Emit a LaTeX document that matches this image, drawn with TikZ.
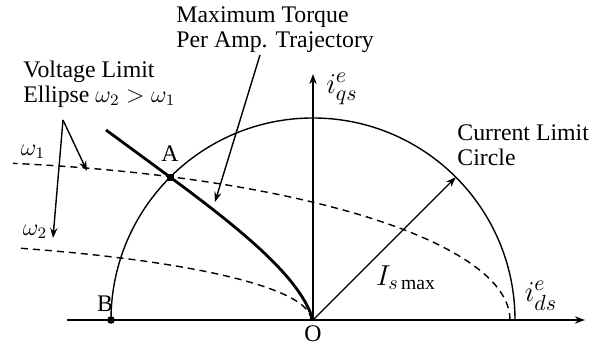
\documentclass[tikz,border=0pt]{standalone}
\usepackage{fontspec}
\setmainfont{Liberation Serif}
\usepackage{amsmath}
\usetikzlibrary{arrows.meta, positioning}

\begin{document}
\begin{tikzpicture}[x=0.5pt, y=0.5pt,
  every node/.style={inner sep=0pt, font=\fontsize{11.9}{12.5}\selectfont},
  axis/.style={line width=0.9pt, -{Stealth[length=5pt, width=3.6pt]}},
  curve/.style={line width=0.7pt},
  limit/.style={line width=0.7pt, dash pattern=on 3.5pt off 2.5pt},
  mtpa/.style={line width=1.4pt},
  pointer/.style={line width=0.7pt, -{Stealth[length=5pt, width=3.6pt]}},
  mathlbl/.style={font=\fontsize{15}{17}\selectfont},
  dot/.style={circle, fill, minimum size=3.8pt}]
\useasboundingbox (-313,-26) rectangle (286,320);

% axes
\coordinate (O) at (0,0);
\coordinate (xl) at (-246,0);
\coordinate (xr) at (272,0);
\coordinate (yt) at (0,246);
\draw[axis] (xl) -- (xr);
\draw[axis] (O) -- (yt);
\node (Olbl) at (0,-14) {O};
\node[mathlbl] (ids) at (228,24) {$i_{ds}^{e}$};
\node[mathlbl] (iqs) at (29,231) {$i_{qs}^{e}$};

% current limit circle
\coordinate (A) at (135:202);
\coordinate (B) at (-202,0);
\coordinate (rtip) at (45:202);
\draw[curve] (202,0) arc[start angle=0, end angle=180, radius=202];
\draw[pointer] (O) -- (rtip);
\node[font=\fontsize{14}{16}\selectfont] (Ismax) at (93,42) {$I_{s\max}$};
\node[align=left, anchor=west] (clc) at (144,175) {Current Limit\\Circle};

% voltage limit ellipses
\draw[limit] plot[domain=0:80.1, samples=70] ({-403+600*cos(\x)}, {159*sin(\x)});
\draw[limit] plot[domain=0:65.3, samples=70] ({-502+500*cos(\x)}, {79*sin(\x)});
\node (w1) at (-280,168) {$\omega_1$};
\node (w2) at (-278,88) {$\omega_2$};
\node[align=left, anchor=west] (vle) at (-290,236) {Voltage Limit\\Ellipse $\omega_2>\omega_1$};
\coordinate (vtx) at (-250,200);
\coordinate (w1tip) at (-226,149);
\coordinate (w2tip) at (-260,82);
\draw[pointer] (vtx) -- (w1tip);
\draw[pointer] (vtx) -- (w2tip);

% max torque per amp trajectory
\coordinate (m0) at (-207,190);
\draw[mtpa] (m0) -- (A) .. controls (-63,84) and (-12,40) .. (O);
\node[align=left, anchor=west] (mtpalbl) at (-137,290) {Maximum Torque\\Per Amp. Trajectory};
\coordinate (mft) at (-53,265);
\coordinate (mtip) at (-98,118);
\draw[pointer] (mft) -- (mtip);

% points
\node[fill, minimum size=3.4pt] (Apt) at (A) {};
\node[dot] (Bpt) at (B) {};
\node (Albl) at (-143,166) {A};
\node (Blbl) at (-208,16) {B};
\end{tikzpicture}
\end{document}
